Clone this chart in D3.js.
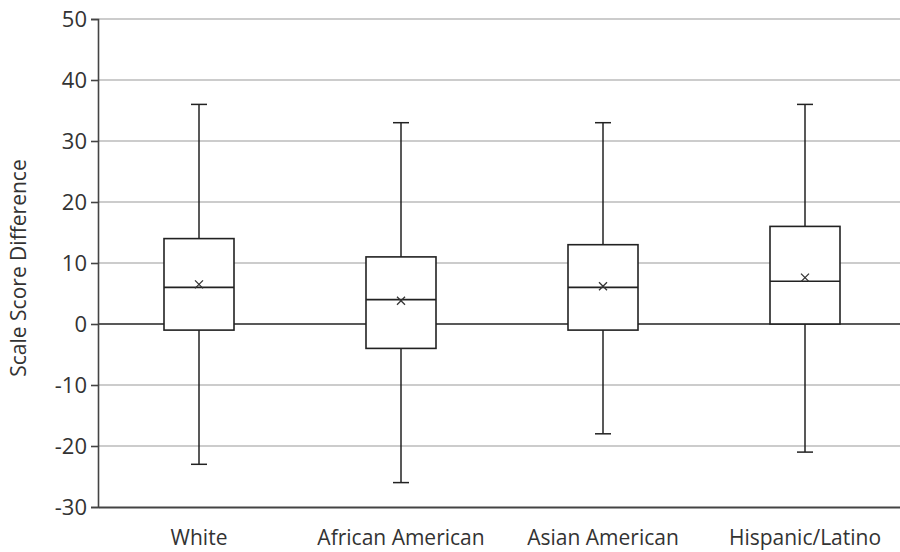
<!DOCTYPE html>
<html>
<head>
<meta charset="utf-8">
<script src="https://cdn.jsdelivr.net/npm/d3@7"></script>
<style>
  body { margin: 0; background: #fff; }
  text { font-family: "Open Sans", sans-serif; fill: #333; }
</style>
</head>
<body>
<div id="root"></div>
<script>
var categories = ['White', 'African American', 'Asian American', 'Hispanic/Latino'];
var minValues = [-23, -26, -18, -21];
var q1Values = [-1, -4, -1, 0];
var medianValues = [6, 4, 6, 7];
var q3Values = [14, 11, 13, 16];
var maxValues = [36, 33, 33, 36];
var meanValues = [6.5, 3.8, 6.2, 7.6];
var yTicks = [-30, -20, -10, 0, 10, 20, 30, 40, 50];

var width = 900, height = 552;

var data = categories.map((c, i) => ({
  name: c,
  min: minValues[i],
  q1: q1Values[i],
  median: medianValues[i],
  q3: q3Values[i],
  max: maxValues[i],
  mean: meanValues[i]
}));

var svg = d3.select('#root')
  .append('svg')
    .attr('width', width)
    .attr('height', height);

var y = d3.scaleLinear()
  .domain([-30, 50])
  .range([507, 19]);

var x = d3.scaleBand()
  .domain(categories)
  .range([98, 906]);

// gridlines
svg.selectAll('.grid')
  .data(yTicks.filter(t => t !== -30 && t !== 0))
  .enter()
  .append('line')
    .attr('x1', 98)
    .attr('x2', width)
    .attr('y1', d => y(d))
    .attr('y2', d => y(d))
    .attr('stroke', '#cccccc')
    .attr('stroke-width', 2);

// zero line
svg.append('line')
  .attr('x1', 98).attr('x2', width)
  .attr('y1', y(0)).attr('y2', y(0))
  .attr('stroke', '#222')
  .attr('stroke-width', 1.6);

// y axis
var yAxis = svg.append('g')
  .attr('transform', 'translate(98,0)')
  .call(d3.axisLeft(y).tickValues(yTicks).tickFormat(d => String(d)).tickSize(7).tickPadding(4));
yAxis.select('.domain').attr('stroke', '#444').attr('stroke-width', 1.6);
yAxis.selectAll('.tick line').attr('stroke', '#444').attr('stroke-width', 1.6);
yAxis.selectAll('.tick text')
  .style('font-family', '"Open Sans", sans-serif')
  .style('font-size', '22px')
  .attr('fill', '#444');

// x axis
var xAxis = svg.append('g')
  .attr('transform', 'translate(0,507)')
  .call(d3.axisBottom(x).tickSize(0).tickPadding(23));
xAxis.select('.domain').attr('stroke', '#444').attr('stroke-width', 1.8);
xAxis.selectAll('.tick text')
  .style('font-family', '"Open Sans", sans-serif')
  .style('font-size', '21px')
  .attr('fill', '#444');

// y label
svg.append('text')
  .attr('transform', 'translate(26,268) rotate(-90)')
  .attr('text-anchor', 'middle')
  .style('font-size', '21px')
  .attr('fill', '#444')
  .text('Scale Score Difference');

var boxW = 70, capW = 16;
var groups = svg.selectAll('.box')
  .data(data)
  .enter()
  .append('g')
    .attr('transform', d => 'translate(' + (x(d.name) + x.bandwidth() / 2) + ',0)');

groups.append('line')
  .attr('x1', 0).attr('x2', 0)
  .attr('y1', d => y(d.max)).attr('y2', d => y(d.min))
  .attr('stroke', '#222').attr('stroke-width', 1.5);

groups.append('line')
  .attr('x1', -capW / 2).attr('x2', capW / 2)
  .attr('y1', d => y(d.max)).attr('y2', d => y(d.max))
  .attr('stroke', '#222').attr('stroke-width', 1.5);

groups.append('line')
  .attr('x1', -capW / 2).attr('x2', capW / 2)
  .attr('y1', d => y(d.min)).attr('y2', d => y(d.min))
  .attr('stroke', '#222').attr('stroke-width', 1.5);

groups.append('rect')
  .attr('x', -boxW / 2)
  .attr('width', boxW)
  .attr('y', d => y(d.q3))
  .attr('height', d => y(d.q1) - y(d.q3))
  .attr('fill', '#fff')
  .attr('stroke', '#222')
  .attr('stroke-width', 1.6);

groups.append('line')
  .attr('x1', -boxW / 2).attr('x2', boxW / 2)
  .attr('y1', d => y(d.median)).attr('y2', d => y(d.median))
  .attr('stroke', '#222').attr('stroke-width', 1.6);

// mean markers
groups.append('path')
  .attr('d', d => {
    var cy = y(d.mean), s = 4;
    return 'M' + (-s) + ',' + (cy - s) + 'L' + s + ',' + (cy + s) +
      'M' + s + ',' + (cy - s) + 'L' + (-s) + ',' + (cy + s);
  })
  .attr('stroke', '#333').attr('stroke-width', 1.3);
</script>
</body>
</html>
